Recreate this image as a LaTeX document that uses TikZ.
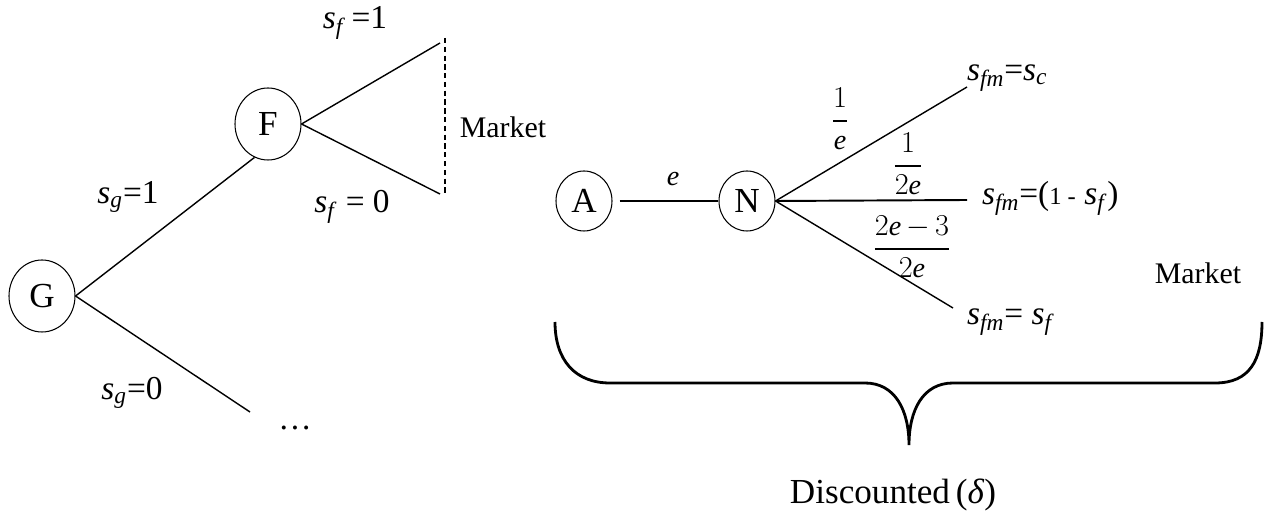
\documentclass[tikz,border=0pt]{standalone}
\usepackage{fontspec}
\setmainfont{Liberation Serif}
\usepackage{amsmath}
\usetikzlibrary{shapes.geometric}
\newcommand{\sv}[1]{\textit{s}\textsubscript{\textit{#1}}}
\begin{document}
\begin{tikzpicture}[x=1cm,y=1cm,
  player/.style={draw,ellipse,line width=0.6pt,inner sep=0pt,minimum width=1.32cm,minimum height=1.44cm,font=\fontsize{20}{24}\selectfont},
  branch/.style={line width=0.8pt},
  lbl/.style={inner sep=1pt,font=\fontsize{19}{22}\selectfont},
  frac/.style={inner sep=1pt,font=\fontsize{16}{18}\selectfont},
  mkt/.style={inner sep=1pt,font=\fontsize{17}{20}\selectfont}]
\useasboundingbox (0,0) rectangle (25.42,10.42);
% left tree
\node[player] (G) at (0.84,4.50) {G};
\node[player] (F) at (5.36,7.94) {F};
\coordinate (gEnd) at (5.00,2.18);
\coordinate (fUp) at (8.80,9.56);
\coordinate (fDown) at (8.80,6.54);
\coordinate (mkTop) at (8.90,9.66);
\coordinate (mkBot) at (8.90,6.52);
\draw[branch] (G.east) -- (F.248);
\draw[branch] (G.east) -- (gEnd);
\draw[branch] (F.east) -- (fUp);
\draw[branch] (F.east) -- (fDown);
\draw[line width=0.6pt,dash pattern=on 3pt off 2pt] (mkTop) -- (mkBot);
\node[lbl] (sfOne) at (7.10,9.96) {\sv{f}\,=1};
\node[lbl] (sgOne) at (2.56,6.48) {\sv{g}=1};
\node[lbl] (sfZero) at (7.04,6.28) {\sv{f} = 0};
\node[lbl] (sgZero) at (2.64,2.56) {\sv{g}=0};
\node[lbl] (dots) at (5.90,1.86) {\dots};
\node[mkt] (mktL) at (10.06,7.88) {Market};
% right tree
\node[player,minimum width=1.12cm,minimum height=1.2cm] (A) at (11.68,6.40) {A};
\node[player,minimum width=1.12cm,minimum height=1.2cm] (N) at (14.94,6.40) {N};
\coordinate (nUp) at (19.34,8.68);
\coordinate (nMid) at (19.34,6.42);
\coordinate (nLow) at (19.06,4.26);
\draw[line width=1.1pt,shorten <=4pt] (A) -- (N);
\draw[branch] (N.east) -- (nUp);
\draw[line width=1.1pt] (N.east) -- (nMid);
\draw[branch] (N.east) -- (nLow);
\node[frac] (eLbl) at (13.46,6.84) {\textit{e}};
\node[frac] (pUp) at (16.80,8.04) {$\dfrac{1}{\textit{e}}$};
\node[frac] (pMid) at (18.16,7.14) {$\dfrac{1}{2\textit{e}}$};
\node[frac] (pLow) at (18.24,5.48) {$\dfrac{2\textit{e}\,{-}\,3}{2\textit{e}}$};
\node[lbl,anchor=west] (sfmUp) at (19.30,8.86) {\sv{fm}=\sv{c}};
\node[lbl,anchor=west] (sfmMid) at (19.60,6.46) {\sv{fm}=({\fontsize{14}{16}\selectfont 1 -} \sv{f})};
\node[lbl,anchor=west] (sfmLow) at (19.30,3.98) {\sv{fm}= \sv{f}};
\node[mkt] (mktR) at (23.96,4.96) {Market};
% brace
\draw[line width=1.6pt] (11.10,3.98) .. controls (11.10,3.22) and (11.50,2.76) .. (12.20,2.76)
  -- (17.30,2.76) .. controls (17.90,2.76) and (18.18,2.22) .. (18.18,1.52)
  .. controls (18.18,2.22) and (18.46,2.76) .. (19.06,2.76)
  -- (24.30,2.76) .. controls (25.00,2.76) and (25.24,3.22) .. (25.24,3.98);
\node[inner sep=1pt,font=\fontsize{20}{24}\selectfont] (disc) at (17.86,0.52) {Discounted\,(\textit{δ})};
\end{tikzpicture}
\end{document}
